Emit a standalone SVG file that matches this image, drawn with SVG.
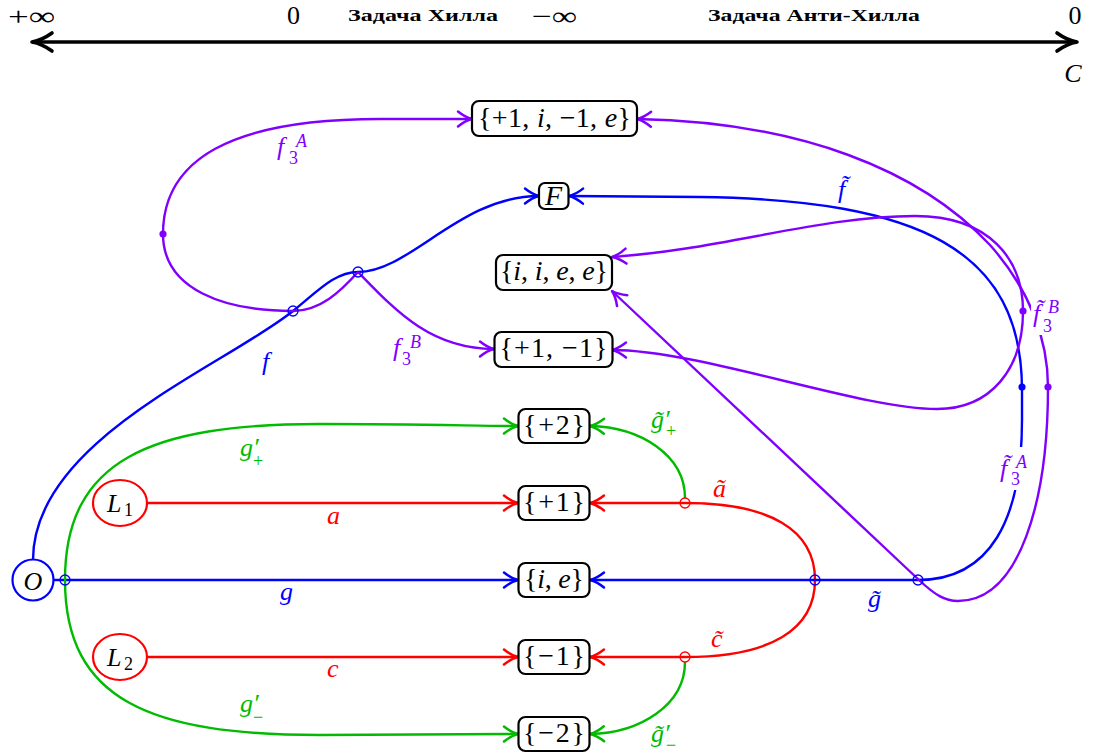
<svg xmlns="http://www.w3.org/2000/svg" width="1093" height="755" viewBox="0 0 1093 755">
<style>
.m{font-family:"Liberation Serif","DejaVu Serif",serif;font-style:italic;font-size:26px}
.r{font-style:normal}
.s{font-size:18px}
.nt{font-family:"Liberation Serif","DejaVu Serif",serif;font-size:28px;fill:#000}
.i{font-style:italic}
.ru{font-family:"Liberation Serif","DejaVu Serif",serif;font-weight:bold;font-size:17px;fill:#000}
.box{fill:#fff;stroke:#000;stroke-width:2.2}
.e{fill:none;stroke-width:2.4}
.bl{stroke:#0000ff}.rd{stroke:#ff0000}.gr{stroke:#00bb00}.pu{stroke:#8000ff}
.oc{fill:none;stroke-width:1.3}
</style>
<defs>
<marker id="ax" viewBox="-24 -12 26 24" markerWidth="26" markerHeight="24" refX="0" refY="0" orient="auto-start-reverse" markerUnits="userSpaceOnUse" overflow="visible"><path d="M-20,-9 C-13,-4 -6,-1 0,0 C-6,1 -13,4 -20,9" fill="none" stroke="#000" stroke-width="3.6" stroke-linecap="round" stroke-linejoin="round"/></marker>
<marker id="ab" viewBox="-16 -10 18 20" markerWidth="18" markerHeight="20" refX="0" refY="0" orient="auto-start-reverse" markerUnits="userSpaceOnUse" overflow="visible"><path d="M-14,-7.5 C-9,-3.5 -4,-1 0,0 C-4,1 -9,3.5 -14,7.5" fill="none" stroke="#0000ff" stroke-width="2.5" stroke-linecap="round" stroke-linejoin="round"/></marker>
<marker id="ar" viewBox="-16 -10 18 20" markerWidth="18" markerHeight="20" refX="0" refY="0" orient="auto-start-reverse" markerUnits="userSpaceOnUse" overflow="visible"><path d="M-14,-7.5 C-9,-3.5 -4,-1 0,0 C-4,1 -9,3.5 -14,7.5" fill="none" stroke="#ff0000" stroke-width="2.5" stroke-linecap="round" stroke-linejoin="round"/></marker>
<marker id="ag" viewBox="-16 -10 18 20" markerWidth="18" markerHeight="20" refX="0" refY="0" orient="auto-start-reverse" markerUnits="userSpaceOnUse" overflow="visible"><path d="M-14,-7.5 C-9,-3.5 -4,-1 0,0 C-4,1 -9,3.5 -14,7.5" fill="none" stroke="#00bb00" stroke-width="2.5" stroke-linecap="round" stroke-linejoin="round"/></marker>
<marker id="ap" viewBox="-16 -10 18 20" markerWidth="18" markerHeight="20" refX="0" refY="0" orient="auto-start-reverse" markerUnits="userSpaceOnUse" overflow="visible"><path d="M-14,-7.5 C-9,-3.5 -4,-1 0,0 C-4,1 -9,3.5 -14,7.5" fill="none" stroke="#8000ff" stroke-width="2.5" stroke-linecap="round" stroke-linejoin="round"/></marker>
</defs>
<rect width="1093" height="755" fill="#fff"/>

<g id="axis">
<path d="M32,42 L1077,42" stroke="#000" stroke-width="3.6" fill="none" marker-start="url(#ax)" marker-end="url(#ax)"/>
<text class="m r" x="8" y="25" textLength="47" lengthAdjust="spacingAndGlyphs">+∞</text>
<text class="m r" x="293.5" y="24" text-anchor="middle">0</text>
<text class="ru" x="348" y="21" textLength="150" lengthAdjust="spacingAndGlyphs">Задача Хилла</text>
<text class="m r" x="532" y="25" textLength="45" lengthAdjust="spacingAndGlyphs">−∞</text>
<text class="ru" x="708" y="21" textLength="212" lengthAdjust="spacingAndGlyphs">Задача Анти-Хилла</text>
<text class="m r" x="1075" y="24" text-anchor="middle">0</text>
<text class="m" x="1073" y="82" text-anchor="middle">C</text>
</g>

<g id="connectors">
<path class="e rd" d="M147,503 L518,503" marker-end="url(#ar)"/>
<path class="e rd" d="M147,657 L518,657" marker-end="url(#ar)"/>
<path class="e bl" d="M54,580 L518,580" marker-end="url(#ab)"/>
<path class="e gr" d="M65,580 C65,460 150,424 320,424 C420,424 480,426 518,426" marker-end="url(#ag)"/>
<path class="e gr" d="M65,580 C65,700 150,735 320,735 C420,735 480,734 518,734" marker-end="url(#ag)"/>
<path class="e bl" d="M33,560 C33,440 223,367 293,311 C318,291 335,272 358,272 C410,272 460,196 539,196" marker-end="url(#ab)"/>
<path class="e pu" d="M358,272 C340,292 320,311 293,311 C225,311 163,290 163,234 C163,160 230,119 380,119 L472,119" marker-end="url(#ap)"/>
<path class="e pu" d="M358,272 C395,310 430,349 494,349" marker-end="url(#ap)"/>
<path class="e rd" d="M815,580 C815,530 770,503 685,503 L590,503" marker-end="url(#ar)"/>
<path class="e rd" d="M815,580 C815,630 770,657 685,657 L590,657" marker-end="url(#ar)"/>
<path class="e gr" d="M685,498 C685,455 640,427 590,426" marker-end="url(#ag)"/>
<path class="e gr" d="M685,662 C685,705 640,733 590,734" marker-end="url(#ag)"/>
<path class="e bl" d="M918,580 L590,580" marker-end="url(#ab)"/>
<path class="e bl" d="M918,580 C990,580 1022,520 1022,420 L1022,390 C1022,250 920,200 700,197 L569,196" marker-end="url(#ab)"/>
<path class="e pu" d="M612,291 L919,580 C935,595 945,601 958,601 C1020,601 1048,500 1048,387 C1048,340 1030,290 990,245 C920,170 800,122 637,119" marker-start="url(#ap)" marker-end="url(#ap)"/>
<path class="e pu" d="M612,350 C700,350 860,409 937,409 C990,409 1023,370 1023,311 C1023,260 990,216 915,216 C820,216 720,250 612,257" marker-start="url(#ap)" marker-end="url(#ap)"/>
<circle class="oc" cx="65" cy="580" r="5" stroke="#0000ff"/>
<circle class="oc" cx="293" cy="311" r="5" stroke="#0000ff"/>
<circle class="oc" cx="358" cy="272" r="5" stroke="#0000ff"/>
<circle class="oc" cx="685" cy="503" r="5" stroke="#ff0000"/>
<circle class="oc" cx="685" cy="657" r="5" stroke="#ff0000"/>
<circle class="oc" cx="815" cy="580" r="5" stroke="#0000ff"/>
<circle class="oc" cx="918" cy="580" r="5" stroke="#0000ff"/>
<circle cx="163" cy="234" r="3.6" fill="#8000ff"/>
<circle cx="1023" cy="311" r="3.6" fill="#8000ff"/>
<circle cx="1048" cy="387" r="3.6" fill="#8000ff"/>
<circle cx="1022" cy="387" r="3.6" fill="#0000ff"/>
<rect x="999" y="447" width="34" height="43" fill="#fff"/>
<rect x="1031" y="294" width="35" height="41" fill="#fff"/>
<text class="m" fill="#ff0000" x="327" y="524">a</text>
<text class="m" fill="#ff0000" x="327" y="677">c</text>
<text class="m" fill="#0000ff" x="280" y="600">g</text>
<text class="m" fill="#00bb00"><tspan x="240" y="456">g′</tspan><tspan class="s r" x="253" y="467">+</tspan></text>
<text class="m" fill="#00bb00"><tspan x="240" y="712">g′</tspan><tspan class="s r" x="253" y="723">−</tspan></text>
<text class="m" fill="#0000ff" x="262" y="370">f</text>
<text class="m" fill="#8000ff"><tspan x="277" y="155">f</tspan><tspan class="s r" x="289" y="164">3</tspan><tspan class="s" x="296" y="147">A</tspan></text>
<text class="m" fill="#8000ff"><tspan x="393" y="356">f</tspan><tspan class="s r" x="402" y="365">3</tspan><tspan class="s" x="410" y="348">B</tspan></text>
<text class="m" fill="#0000ff" x="838" y="198">f̃</text>
<text class="m" fill="#8000ff"><tspan x="1033" y="322">f̃</tspan><tspan class="s r" x="1043" y="332">3</tspan><tspan class="s" x="1048" y="313">B</tspan></text>
<text class="m" fill="#8000ff"><tspan x="1000" y="477">f̃</tspan><tspan class="s r" x="1011" y="485">3</tspan><tspan class="s" x="1016" y="468">A</tspan></text>
<text class="m" fill="#ff0000" x="713" y="497">ã</text>
<text class="m" fill="#ff0000" x="711" y="647">c̃</text>
<text class="m" fill="#0000ff" x="868" y="607">g̃</text>
<text class="m" fill="#00bb00"><tspan x="651" y="428">g̃′</tspan><tspan class="s r" x="666" y="437">+</tspan></text>
<text class="m" fill="#00bb00"><tspan x="651" y="742">g̃′</tspan><tspan class="s r" x="666" y="751">−</tspan></text>
</g>

<g id="n-O"><circle cx="33" cy="580" r="20.5" fill="#fff" stroke="#0000ff" stroke-width="2.2"/><text class="m" x="33" y="590" text-anchor="middle" font-size="27">O</text></g>
<g id="n-L1"><ellipse cx="120" cy="503" rx="27" ry="23" fill="#fff" stroke="#ff0000" stroke-width="2.2"/><text class="m"><tspan x="107" y="512">L</tspan><tspan class="s r" x="124" y="516">1</tspan></text></g>
<g id="n-L2"><ellipse cx="120" cy="657" rx="27" ry="23" fill="#fff" stroke="#ff0000" stroke-width="2.2"/><text class="m"><tspan x="107" y="666">L</tspan><tspan class="s r" x="124" y="670">2</tspan></text></g>

<g id="n-pie"><rect class="box" x="472" y="101" width="165" height="35" rx="7"/><text class="nt" x="554.5" y="127" text-anchor="middle" textLength="153">{+1, <tspan class="i">i</tspan>, −1, <tspan class="i">e</tspan>}</text></g>
<g id="n-F"><rect class="box" x="539" y="183" width="29.5" height="26" rx="6"/><text class="nt i" x="553.5" y="205" text-anchor="middle">F</text></g>
<g id="n-iiee"><rect class="box" x="496" y="255" width="116" height="35" rx="7"/><text class="nt" x="554" y="280" text-anchor="middle" textLength="108">{<tspan class="i">i</tspan>, <tspan class="i">i</tspan>, <tspan class="i">e</tspan>, <tspan class="i">e</tspan>}</text></g>
<g id="n-pm1"><rect class="box" x="494.5" y="332" width="118" height="35" rx="7"/><text class="nt" x="553.5" y="357" text-anchor="middle" textLength="108">{+1, −1}</text></g>
<g id="n-p2"><rect class="box" x="518.5" y="409" width="71" height="34" rx="7"/><text class="nt" x="554" y="434" text-anchor="middle" textLength="62">{+2}</text></g>
<g id="n-p1"><rect class="box" x="518.5" y="486" width="71" height="34" rx="7"/><text class="nt" x="554" y="511" text-anchor="middle" textLength="62">{+1}</text></g>
<g id="n-ie"><rect class="box" x="518.5" y="563" width="71" height="34" rx="7"/><text class="nt" x="554" y="588" text-anchor="middle" textLength="60">{<tspan class="i">i</tspan>, <tspan class="i">e</tspan>}</text></g>
<g id="n-m1"><rect class="box" x="518.5" y="640" width="71" height="34" rx="7"/><text class="nt" x="554" y="665" text-anchor="middle" textLength="62">{−1}</text></g>
<g id="n-m2"><rect class="box" x="518.5" y="717" width="71" height="34" rx="7"/><text class="nt" x="554" y="742" text-anchor="middle" textLength="62">{−2}</text></g>
</svg>
